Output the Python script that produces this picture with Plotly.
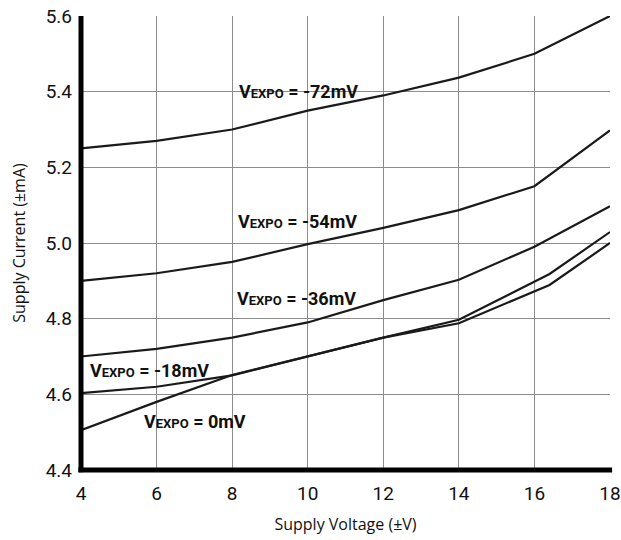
import plotly.graph_objects as go

# Supply voltage sweep (±V)
supply_v = [4, 6, 8, 10, 12, 14, 16, 18]
supply_v_low = [4, 6, 8, 10, 12, 14, 16.4, 18]

# Supply current (±mA) for each V_EXPO setting
i_m72 = [5.25, 5.27, 5.30, 5.35, 5.39, 5.437, 5.50, 5.60]
i_m54 = [4.90, 4.92, 4.95, 4.997, 5.04, 5.087, 5.15, 5.298]
i_m36 = [4.70, 4.72, 4.75, 4.79, 4.849, 4.903, 4.99, 5.097]
i_m18 = [4.603, 4.62, 4.65, 4.70, 4.75, 4.797, 4.918, 5.029]
i_0 = [4.505, 4.58, 4.651, 4.70, 4.75, 4.788, 4.889, 5.0]

x_ticks = [4, 6, 8, 10, 12, 14, 16, 18]
y_ticks = [4.4, 4.6, 4.8, 5.0, 5.2, 5.4, 5.6]

# Curve label text and anchor positions (data coordinates)
label_mv = ["-72mV", "-54mV", "-36mV", "-18mV", "0mV"]
label_x = [8.13, 8.1, 8.07, 4.19, 5.61]
label_y = [5.40, 5.056, 4.854, 4.664, 4.527]

LABEL_FONT = "Roboto"
TICK_FONT = "Roboto"
LINE = "#1a1a1a"

fig = go.Figure()
series = [
    (supply_v, i_m72),
    (supply_v, i_m54),
    (supply_v, i_m36),
    (supply_v_low, i_m18),
    (supply_v_low, i_0),
]
for xs, ys in series:
    fig.add_trace(go.Scatter(x=xs, y=ys, mode="lines",
                             line=dict(color=LINE, width=2.2),
                             showlegend=False, hoverinfo="skip"))

for txt, lx, ly in zip(label_mv, label_x, label_y):
    fig.add_annotation(
        x=lx, y=ly, xref="x", yref="y", xanchor="left", yanchor="middle",
        text='<b>V<span style="font-size:13px">EXPO</span> = ' + txt + "</b>",
        showarrow=False,
        font=dict(family=LABEL_FONT, size=18, color="#111"),
    )

fig.update_layout(
    width=621, height=540,
    margin=dict(l=81, r=11, t=16, b=70),
    paper_bgcolor="white", plot_bgcolor="white",
    font=dict(family=TICK_FONT, color="#111"),
    xaxis=dict(
        range=[4, 18], tickvals=x_ticks, ticktext=[str(v) for v in x_ticks],
        showgrid=True, gridcolor="#8c8c8c", gridwidth=1,
        showline=False, zeroline=False, ticks="",
        automargin=False, ticklabelstandoff=10,
        tickfont=dict(size=19, family=TICK_FONT),
        title=dict(text="Supply Voltage (±V)", font=dict(size=16, family="Open Sans"), standoff=14),
    ),
    yaxis=dict(
        range=[4.4, 5.6], tickvals=y_ticks, ticktext=[f"{v:.1f}" for v in y_ticks],
        showgrid=True, gridcolor="#8c8c8c", gridwidth=1,
        showline=False, zeroline=False, ticks="",
        automargin=False, ticklabelstandoff=8,
        tickfont=dict(size=19, family=TICK_FONT),
        title=dict(text="Supply Current (±mA)", font=dict(size=16, family="Open Sans"), standoff=16),
    ),
)

# Heavy left and bottom axis rules
fig.add_shape(type="line", xref="paper", yref="paper", x0=0, x1=0, y0=-0.005, y1=1,
              line=dict(color="black", width=5))
fig.add_shape(type="line", xref="paper", yref="paper", x0=-0.005, x1=1.004, y0=0, y1=0,
              line=dict(color="black", width=5))

fig.write_html("out.html")
